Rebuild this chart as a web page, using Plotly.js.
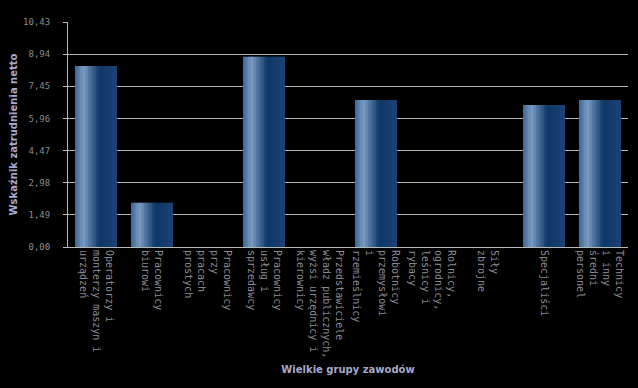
<!DOCTYPE html>
<html>
<head>
<meta charset="utf-8">
<script src="https://cdn.plot.ly/plotly-3.0.1.min.js"></script>
<style>html,body{margin:0;padding:0;background:#000;}#chart{width:638px;height:388px;}</style>
</head>
<body>
<div id="chart"></div>
<script>
const categories = [
  "Operatorzy i<br>monterzy maszyn i<br>urządzeń",
  "Pracownicy<br>biurowi",
  "Pracownicy<br>przy<br>pracach<br>prostych",
  "Pracownicy<br>usług i<br>sprzedawcy",
  "Przedstawiciele<br>władz publicznych,<br>wyżsi urzędnicy i<br>kierownicy",
  "Robotnicy<br>przemysłowi<br>i<br>rzemieślnicy",
  "Rolnicy,<br>ogrodnicy,<br>leśnicy i<br>rybacy",
  "Siły<br>zbrojne",
  "Specjaliści",
  "Technicy<br>i inny<br>średni<br>personel"
];
const values = [8.39, 2.05, null, 8.82, null, 6.82, null, null, 6.58, 6.82];
const yTickVals = [0, 1.49, 2.98, 4.47, 5.96, 7.45, 8.94, 10.43];
const yTickText = ["0,00", "1,49", "2,98", "4,47", "5,96", "7,45", "8,94", "10,43"];

// gradient stops across bar width
const stops = [[0, [59,101,150]], [0.2, [124,156,194]], [0.58, [13,55,103]], [1, [27,67,115]]];
function colorAt(t) {
  for (let i = 0; i < stops.length - 1; i++) {
    const [t0, c0] = stops[i], [t1, c1] = stops[i+1];
    if (t >= t0 && t <= t1) {
      const f = (t - t0) / (t1 - t0);
      const c = c0.map((v, j) => Math.round(v + (c1[j] - v) * f));
      return `rgb(${c[0]},${c[1]},${c[2]})`;
    }
  }
  return 'rgb(27,67,115)';
}
const N = 16, barW = 0.75;
const traces = [];
for (let k = 0; k < N; k++) {
  const w = barW / N;
  traces.push({
    type: 'bar', x: categories, y: values,
    width: (k < N - 1 ? w * 1.6 : w),
    offset: -barW / 2 + k * w,
    marker: {color: colorAt((k + 0.5) / N), line: {width: 0}},
    hoverinfo: 'skip', showlegend: false
  });
}
const layout = {
  width: 638, height: 388,
  paper_bgcolor: '#000', plot_bgcolor: '#000',
  margin: {l: 68, r: 10, t: 22, b: 141},
  barmode: 'overlay',
  showlegend: false,
  hovermode: false,
  xaxis: {
    type: 'category',
    tickangle: 90,
    tickfont: {family: 'DejaVu Sans Mono', size: 10, color: '#8c8c96'},
    showline: true, linecolor: '#b8b8b8', linewidth: 1,
    ticks: '', showgrid: false,
    title: {text: 'Wielkie grupy zawodów', font: {family: 'DejaVu Sans', size: 10, color: '#a8a8c8', weight: 'bold'}, standoff: 8},
    automargin: false
  },
  yaxis: {
    range: [0, 10.43],
    tickvals: yTickVals, ticktext: yTickText,
    tickfont: {family: 'DejaVu Sans Mono', size: 9, color: '#8c8c8c'},
    ticklabelstandoff: 11,
    showgrid: true, gridcolor: '#b4b4b4', gridwidth: 1,
    showline: true, linecolor: '#b8b8b8', linewidth: 1,
    ticks: 'outside', ticklen: 4, tickcolor: '#b8b8b8',
    zeroline: false,
    title: {text: 'Wskaźnik zatrudnienia netto', font: {family: 'DejaVu Sans', size: 10, color: '#a8a8d0', weight: 'bold'}, standoff: 3},
    automargin: false
  }
};
Plotly.newPlot('chart', traces, layout, {displayModeBar: false, staticPlot: true});
</script>
</body>
</html>
